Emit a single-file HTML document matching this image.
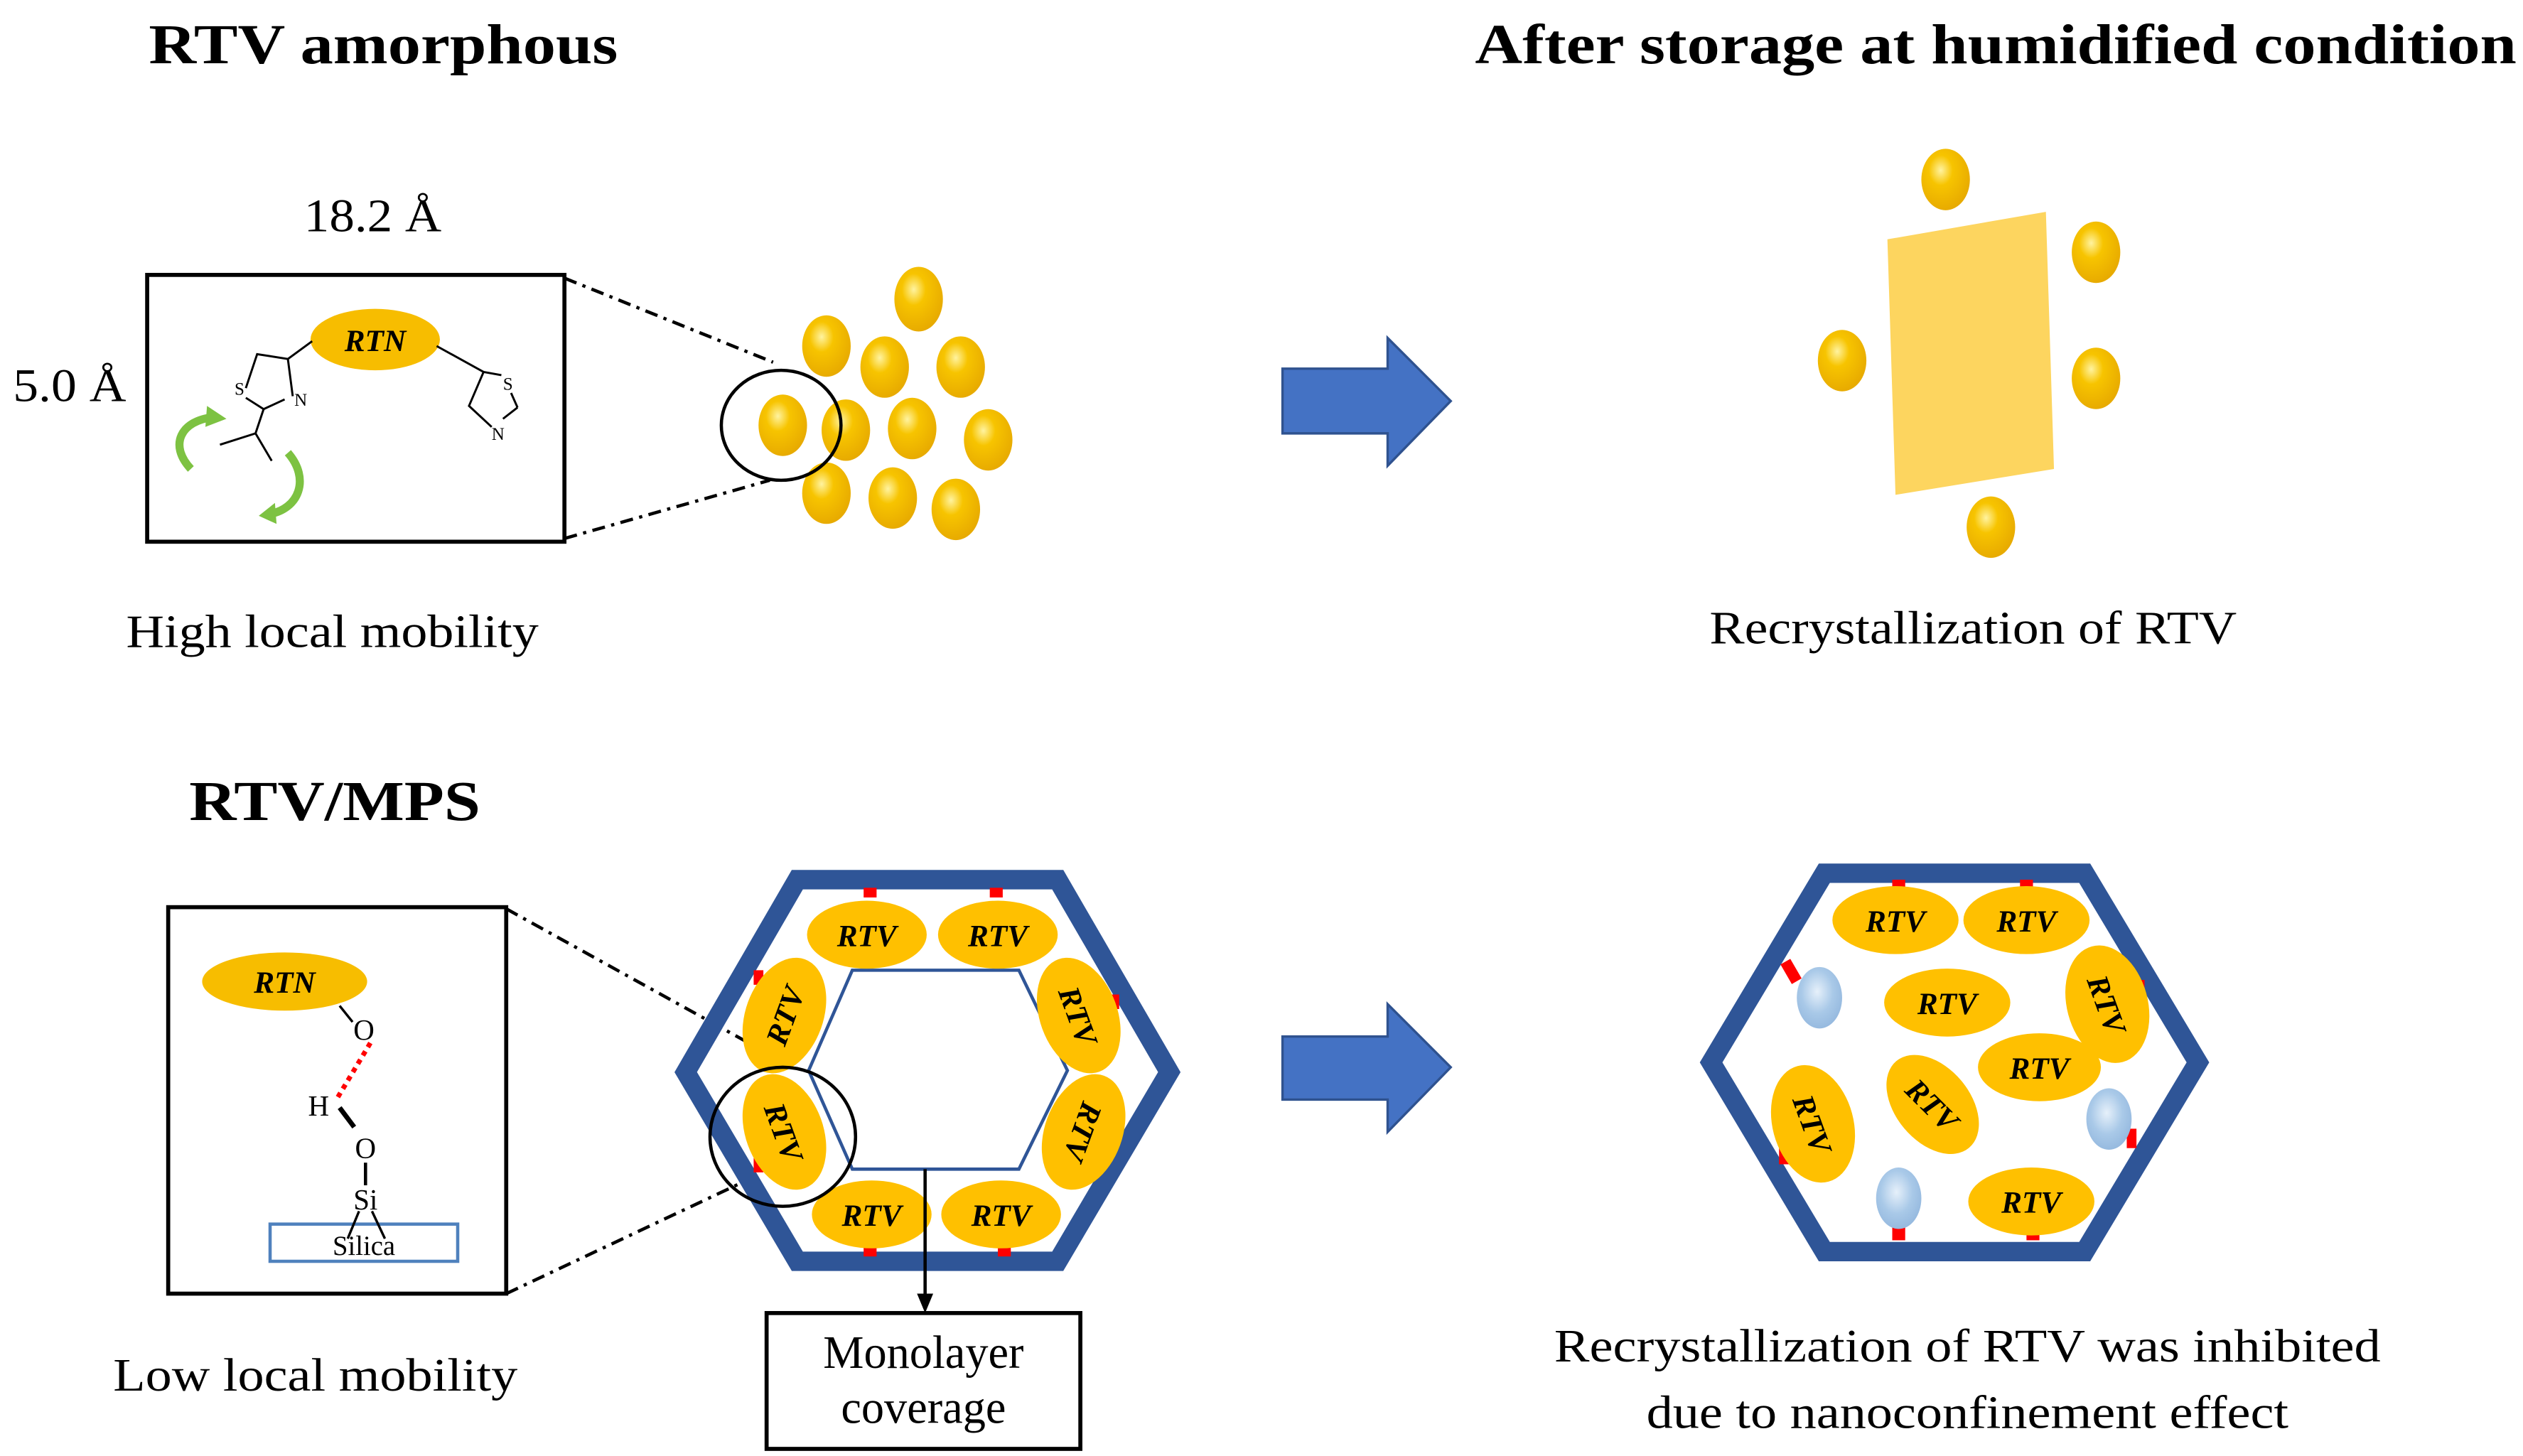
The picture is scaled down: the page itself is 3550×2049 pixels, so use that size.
<!DOCTYPE html>
<html><head><meta charset="utf-8"><style>
html,body{margin:0;padding:0;background:#fff;}
svg{display:block;}
text{font-family:"Liberation Serif",serif;}
.b{font-weight:bold;font-size:35px;}
.n{font-size:29px;}
.r{font-style:italic;font-weight:bold;font-size:19px;}
</style></head><body>
<svg width="3550" height="2049" viewBox="0 0 1560 900.4" preserveAspectRatio="none" xmlns="http://www.w3.org/2000/svg">
<defs>
<radialGradient id="g" cx="0.4" cy="0.35" r="0.7">
<stop offset="0" stop-color="#fff3a0"/><stop offset="0.35" stop-color="#f7c400"/><stop offset="1" stop-color="#e6a800"/>
</radialGradient>
<radialGradient id="w" cx="0.45" cy="0.4" r="0.7">
<stop offset="0" stop-color="#e6f0fa"/><stop offset="0.5" stop-color="#a9c9e8"/><stop offset="1" stop-color="#8fb4dc"/>
</radialGradient>
</defs>

<!-- Top left -->
<text class="b" x="92" y="39" textLength="290" lengthAdjust="spacingAndGlyphs">RTV amorphous</text>
<text class="n" x="188" y="143" textLength="85" lengthAdjust="spacingAndGlyphs">18.2 Å</text>
<text class="n" x="8" y="248" textLength="70" lengthAdjust="spacingAndGlyphs">5.0 Å</text>
<rect x="91" y="170" width="258" height="165" fill="none" stroke="#000" stroke-width="2.5"/>
<ellipse cx="232" cy="210" rx="40" ry="19" fill="#f7bd00"/>
<text class="r" x="232" y="217" text-anchor="middle" font-size="20">RTN</text>
<g stroke="#000" stroke-width="1.3" fill="none">
<line x1="193" y1="211" x2="178" y2="222"/>
<polyline points="178,222 159,219 152,240"/>
<line x1="178" y1="222" x2="181" y2="245"/>
<line x1="163" y1="253" x2="176" y2="247"/>
<line x1="163" y1="253" x2="152" y2="246"/>
<line x1="163" y1="253" x2="158" y2="268"/>
<line x1="158" y1="268" x2="136" y2="275"/>
<line x1="158" y1="268" x2="168" y2="285"/>
<line x1="270" y1="214" x2="299" y2="230"/>
<polyline points="299,230 290,251 304,264"/>
<line x1="299" y1="230" x2="310" y2="232"/>
<line x1="316" y1="243" x2="320" y2="252"/>
<line x1="320" y1="252" x2="311" y2="259"/>
</g>
<text x="145" y="244" font-size="11" font-family="Liberation Sans">S</text>
<text x="182" y="251" font-size="11" font-family="Liberation Sans">N</text>
<text x="311" y="241" font-size="11" font-family="Liberation Sans">S</text>
<text x="304" y="272" font-size="11" font-family="Liberation Sans">N</text>
<path d="M118,290 C104,275 112,260 132,258" stroke="#7dc242" stroke-width="5" fill="none"/>
<polygon points="128,251 140,259 127,264" fill="#7dc242"/>
<path d="M178,280 C192,296 185,315 166,318" stroke="#7dc242" stroke-width="5" fill="none"/>
<polygon points="170,311 160,319 171,324" fill="#7dc242"/>
<g stroke="#000" stroke-width="2" stroke-dasharray="8,4,2,4">
<line x1="349" y1="172" x2="478" y2="224"/>
<line x1="349" y1="333" x2="476" y2="297"/>
</g>
<g fill="url(#g)">
<ellipse cx="568" cy="185" rx="15" ry="20"/>
<ellipse cx="511" cy="214" rx="15" ry="19"/>
<ellipse cx="547" cy="227" rx="15" ry="19"/>
<ellipse cx="594" cy="227" rx="15" ry="19"/>
<ellipse cx="484" cy="263" rx="15" ry="19"/>
<ellipse cx="523" cy="266" rx="15" ry="19"/>
<ellipse cx="564" cy="265" rx="15" ry="19"/>
<ellipse cx="611" cy="272" rx="15" ry="19"/>
<ellipse cx="511" cy="305" rx="15" ry="19"/>
<ellipse cx="552" cy="308" rx="15" ry="19"/>
<ellipse cx="591" cy="315" rx="15" ry="19"/>
</g>
<ellipse cx="483" cy="263" rx="37" ry="34" fill="none" stroke="#000" stroke-width="2"/>
<text class="n" x="78" y="400" textLength="255" lengthAdjust="spacingAndGlyphs">High local mobility</text>

<!-- Arrows -->
<polygon points="793,228 858,228 858,209 897,248 858,288 858,268 793,268" fill="#4472c4" stroke="#2f528f" stroke-width="1.5"/>
<polygon points="793,641 858,641 858,621 897,660 858,700 858,680 793,680" fill="#4472c4" stroke="#2f528f" stroke-width="1.5"/>

<!-- Top right -->
<text class="b" x="912" y="39" textLength="644" lengthAdjust="spacingAndGlyphs">After storage at humidified condition</text>
<polygon points="1167,148 1265,131 1270,290 1172,306" fill="#fdd55f"/>
<g fill="url(#g)">
<ellipse cx="1203" cy="111" rx="15" ry="19"/>
<ellipse cx="1296" cy="156" rx="15" ry="19"/>
<ellipse cx="1139" cy="223" rx="15" ry="19"/>
<ellipse cx="1296" cy="234" rx="15" ry="19"/>
<ellipse cx="1231" cy="326" rx="15" ry="19"/>
</g>
<text class="n" x="1057" y="398" textLength="326" lengthAdjust="spacingAndGlyphs">Recrystallization of RTV</text>

<!-- Bottom left -->
<text class="b" x="117" y="507" textLength="180" lengthAdjust="spacingAndGlyphs">RTV/MPS</text>
<rect x="104" y="561" width="209" height="239" fill="none" stroke="#000" stroke-width="2.5"/>
<ellipse cx="176" cy="607" rx="51" ry="18" fill="#f7bd00"/>
<text class="r" x="176" y="614" text-anchor="middle" font-size="20">RTN</text>
<line x1="210" y1="622" x2="218" y2="632" stroke="#000" stroke-width="1.5"/>
<text x="225" y="643" font-size="18" text-anchor="middle">O</text>
<line x1="229" y1="645" x2="208" y2="680" stroke="#f00" stroke-width="3" stroke-dasharray="3,3"/>
<text x="197" y="690" font-size="18" text-anchor="middle">H</text>
<line x1="210" y1="685" x2="219" y2="697" stroke="#000" stroke-width="3"/>
<text x="226" y="716" font-size="18" text-anchor="middle">O</text>
<line x1="226" y1="719" x2="226" y2="733" stroke="#000" stroke-width="2"/>
<text x="226" y="748" font-size="18" text-anchor="middle">Si</text>
<rect x="167" y="757" width="116" height="23" fill="#fff" stroke="#4f81bd" stroke-width="2"/>
<line x1="222" y1="749" x2="215" y2="766" stroke="#000" stroke-width="1.5"/>
<line x1="230" y1="749" x2="238" y2="766" stroke="#000" stroke-width="1.5"/>
<text x="225" y="776" font-size="17" text-anchor="middle">Silica</text>
<text class="n" x="70" y="860" textLength="250" lengthAdjust="spacingAndGlyphs">Low local mobility</text>

<g stroke="#000" stroke-width="2" stroke-dasharray="8,4,2,4">
<line x1="313" y1="562" x2="463" y2="645"/>
<line x1="313" y1="800" x2="470" y2="726"/>
</g>

<!-- Mid hexagon -->
<polygon points="493,544 654,544 723,663 654,780 493,780 424,663" fill="none" stroke="#2f5597" stroke-width="12"/>
<polygon points="527,600 630,600 660,662 630,723 527,723 500,662" fill="none" stroke="#2f5597" stroke-width="2"/>
<g fill="#f00">
<rect x="534" y="549" width="8" height="6"/><rect x="612" y="549" width="8" height="6"/>
<rect x="534" y="771" width="8" height="6"/><rect x="617" y="771" width="8" height="6"/>
<rect x="466" y="600" width="6" height="9"/><rect x="466" y="716" width="6" height="9"/>
<rect x="686" y="615" width="6" height="9"/><rect x="684" y="702" width="6" height="9"/>
</g>
<g fill="#ffc000">
<ellipse cx="536" cy="578" rx="37" ry="21"/>
<ellipse cx="617" cy="578" rx="37" ry="21"/>
<ellipse cx="539" cy="751" rx="37" ry="21"/>
<ellipse cx="619" cy="751" rx="37" ry="21"/>
<ellipse cx="485" cy="628" rx="24" ry="37" transform="rotate(20 485 628)"/>
<ellipse cx="485" cy="700" rx="24" ry="37" transform="rotate(-20 485 700)"/>
<ellipse cx="667" cy="628" rx="24" ry="37" transform="rotate(-20 667 628)"/>
<ellipse cx="670" cy="700" rx="24" ry="37" transform="rotate(20 670 700)"/>
</g>
<text class="r" x="536" y="585" text-anchor="middle">RTV</text>
<text class="r" x="617" y="585" text-anchor="middle">RTV</text>
<text class="r" x="539" y="758" text-anchor="middle">RTV</text>
<text class="r" x="619" y="758" text-anchor="middle">RTV</text>
<text class="r" x="0" y="0" text-anchor="middle" transform="translate(485 628) rotate(-70) translate(0 7)">RTV</text>
<text class="r" x="0" y="0" text-anchor="middle" transform="translate(485 700) rotate(70) translate(0 7)">RTV</text>
<text class="r" x="0" y="0" text-anchor="middle" transform="translate(667 628) rotate(70) translate(0 7)">RTV</text>
<text class="r" x="0" y="0" text-anchor="middle" transform="translate(670 700) rotate(110) translate(0 7)">RTV</text>
<ellipse cx="484" cy="703" rx="45" ry="43" fill="none" stroke="#000" stroke-width="2"/>
<line x1="572" y1="723" x2="572" y2="802" stroke="#000" stroke-width="2"/>
<polygon points="567,800 577,800 572,812" fill="#000"/>
<rect x="474" y="812" width="194" height="84" fill="#fff" stroke="#000" stroke-width="2.5"/>
<text class="n" x="509" y="846" font-size="26" textLength="124" lengthAdjust="spacingAndGlyphs">Monolayer</text>
<text class="n" x="520" y="880" font-size="26" textLength="102" lengthAdjust="spacingAndGlyphs">coverage</text>

<!-- Right hexagon -->
<polygon points="1128,540 1289,540 1359,657 1289,774 1128,774 1058,657" fill="none" stroke="#2f5597" stroke-width="12"/>
<g fill="#f00">
<rect x="1170" y="544" width="8" height="8"/><rect x="1249" y="544" width="8" height="8"/>
<rect x="1170" y="758" width="8" height="9"/><rect x="1253" y="758" width="8" height="9"/>
<rect x="1104" y="594" width="7" height="14" transform="rotate(-30 1107 601)"/>
<rect x="1320" y="606" width="6" height="12"/>
<rect x="1315" y="698" width="6" height="12"/>
<rect x="1100" y="708" width="6" height="12"/>
</g>
<g fill="#ffc000">
<ellipse cx="1172" cy="569" rx="39" ry="21"/>
<ellipse cx="1253" cy="569" rx="39" ry="21"/>
<ellipse cx="1204" cy="620" rx="39" ry="21"/>
<ellipse cx="1303" cy="621" rx="25" ry="37" transform="rotate(-15 1303 621)"/>
<ellipse cx="1261" cy="660" rx="38" ry="21"/>
<ellipse cx="1195" cy="683" rx="23" ry="35" transform="rotate(-40 1195 683)"/>
<ellipse cx="1121" cy="695" rx="25" ry="37" transform="rotate(-15 1121 695)"/>
<ellipse cx="1256" cy="743" rx="39" ry="21"/>
</g>
<g fill="url(#w)">
<ellipse cx="1125" cy="617" rx="14" ry="19"/>
<ellipse cx="1304" cy="692" rx="14" ry="19"/>
<ellipse cx="1174" cy="741" rx="14" ry="19"/>
</g>
<text class="r" x="1172" y="576" text-anchor="middle">RTV</text>
<text class="r" x="1253" y="576" text-anchor="middle">RTV</text>
<text class="r" x="1204" y="627" text-anchor="middle">RTV</text>
<text class="r" x="1261" y="667" text-anchor="middle">RTV</text>
<text class="r" x="1256" y="750" text-anchor="middle">RTV</text>
<text class="r" x="0" y="0" text-anchor="middle" transform="translate(1303 621) rotate(70) translate(0 7)">RTV</text>
<text class="r" x="0" y="0" text-anchor="middle" transform="translate(1195 683) rotate(45) translate(0 7)">RTV</text>
<text class="r" x="0" y="0" text-anchor="middle" transform="translate(1121 695) rotate(70) translate(0 7)">RTV</text>
<text class="n" x="961" y="842" textLength="511" lengthAdjust="spacingAndGlyphs">Recrystallization of RTV was inhibited</text>
<text class="n" x="1018" y="883" textLength="397" lengthAdjust="spacingAndGlyphs">due to nanoconfinement effect</text>
</svg>
</body></html>
